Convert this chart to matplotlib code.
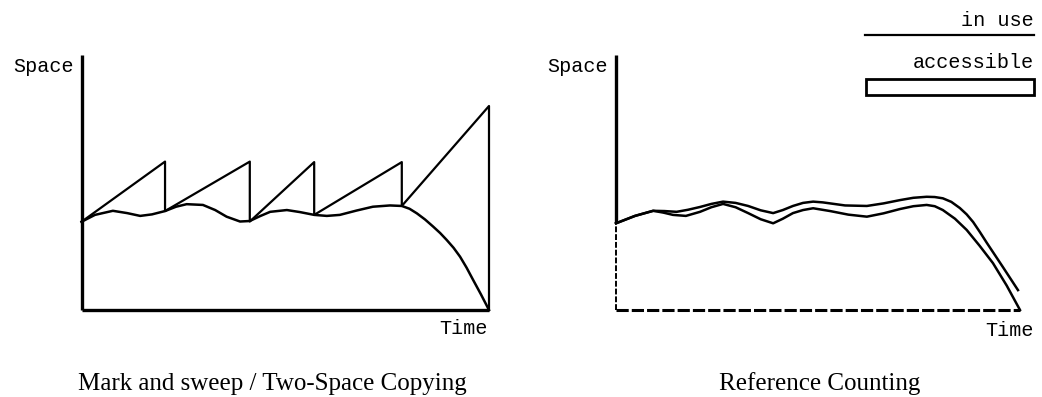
import matplotlib
matplotlib.use('Agg')
import matplotlib.pyplot as plt
from matplotlib.lines import Line2D
from matplotlib.patches import Rectangle

# --- mark and sweep / copying: heap size (sawtooth) and live data ---
heap_t = [0, 20.5, 20.5, 41.3, 41.3, 57.1, 57.1, 78.6, 78.6, 100, 100]
heap_s = [34.6, 58.2, 38.8, 58.2, 34.7, 58.0, 37.3, 58.0, 40.8, 80.0, 0]

live_t = [0, 3.3, 7.7, 11.2, 14.4, 17.3, 20.5, 23.2, 25.8, 29.8, 32.8, 35.6,
          38.9, 41.3, 43.8, 46.3, 50.4, 53.6, 57.1, 60.2, 63.4, 67.5, 71.5,
          75.7, 78.6, 80.5, 82.3, 84.3, 86.3, 88.0, 89.6, 91.3, 92.9, 94.5,
          96.1, 98.0, 100]
live_s = [34.6, 37.3, 38.9, 38.0, 36.9, 37.5, 38.8, 40.5, 41.5, 41.2, 39.2,
          36.6, 34.7, 34.9, 36.8, 38.5, 39.2, 38.4, 37.3, 36.9, 37.3, 39.0,
          40.5, 41.0, 40.8, 39.7, 37.9, 35.5, 32.7, 30.2, 27.5, 24.4, 20.9,
          16.6, 11.8, 6.2, 0]

# --- reference counting: in use vs. accessible ---
use_t = [0, 4.7, 9.2, 12.0, 15.0, 17.8, 20.8, 23.6, 26.5, 29.6, 32.7, 35.8,
         38.9, 41.3, 43.8, 46.3, 48.8, 51.2, 56.7, 62.1, 66.2, 70.3, 73.6,
         76.9, 78.9, 80.9, 83.0, 85.1, 86.8, 88.4, 90.1, 91.8, 95.7, 99.5]
use_s = [34.0, 36.9, 38.9, 38.8, 38.5, 39.3, 40.4, 41.6, 42.5, 42.0, 40.8,
         39.1, 38.0, 39.2, 40.8, 42.0, 42.5, 42.2, 41.0, 40.8, 41.8, 43.1,
         44.0, 44.4, 44.3, 43.8, 42.4, 40.0, 37.5, 34.5, 30.5, 26.3, 17.0, 7.8]

acc_t = [0, 4.7, 9.2, 11.7, 14.1, 17.3, 20.8, 23.6, 26.5, 29.6, 32.7, 35.8,
         38.9, 41.3, 43.8, 46.3, 48.8, 53.0, 57.5, 62.1, 66.2, 70.3, 73.6,
         76.9, 78.9, 80.9, 83.9, 86.8, 90.0, 93.3, 96.7, 100]
acc_s = [34.0, 36.9, 38.9, 38.2, 37.3, 36.9, 38.5, 40.3, 41.6, 40.3, 38.0,
         35.6, 34.0, 35.8, 38.0, 39.2, 39.9, 38.8, 37.4, 36.6, 37.9, 39.6,
         40.7, 41.2, 40.7, 39.2, 35.8, 31.4, 25.2, 18.4, 9.6, 0]

mono = 'Liberation Mono'
serif = 'Liberation Serif'

fig = plt.figure(figsize=(10.42, 3.97), dpi=100)
W, H = 1042, 397

ax1 = fig.add_axes([81.5 / W, 87 / H, 407.5 / W, 255 / H])
ax2 = fig.add_axes([616 / W, 87 / H, 404 / W, 255 / H])

for ax in (ax1, ax2):
    ax.set_xlim(0, 100)
    ax.set_ylim(0, 100)
    ax.set_xticks([])
    ax.set_yticks([])
    for sp in ax.spines.values():
        sp.set_visible(False)

# left panel
ax1.plot([0, 0], [0, 100], color='black', lw=2.4, clip_on=False, solid_capstyle='butt')
ax1.plot([0, 100], [0, 0], color='black', lw=2.4, clip_on=False, solid_capstyle='butt')
ax1.plot(heap_t, heap_s, color='black', lw=1.6, clip_on=False)
ax1.plot(live_t, live_s, color='black', lw=1.8, clip_on=False, solid_joinstyle='round')

# right panel
ax2.plot([0, 0], [acc_s[0], 100], color='black', lw=2.4, clip_on=False, solid_capstyle='butt')
ax2.plot([0, 0], [0, acc_s[0]], color='black', lw=1.4, ls=(0, (3, 1)), clip_on=False)
ax2.plot([0, 100], [0, 0], color='black', lw=2.2, ls=(0, (4, 1)), clip_on=False)
ax2.plot(use_t, use_s, color='black', lw=1.8, clip_on=False, solid_joinstyle='round')
ax2.plot(acc_t, acc_s, color='black', lw=1.8, clip_on=False, solid_joinstyle='round')

# axis labels
fig.text(74 / W, 1 - 66 / H, 'Space', family=mono, fontsize=14.5, ha='right', va='center')
fig.text(608 / W, 1 - 67 / H, 'Space', family=mono, fontsize=14.5, ha='right', va='center')
fig.text(488 / W, 1 - 328 / H, 'Time', family=mono, fontsize=14.5, ha='right', va='center')
fig.text(1034 / W, 1 - 330 / H, 'Time', family=mono, fontsize=14.5, ha='right', va='center')

# legend
fig.text(1034 / W, 1 - 20 / H, 'in use', family=mono, fontsize=14.5, ha='right', va='center')
fig.add_artist(Line2D([865 / W, 1034 / W], [1 - 35 / H, 1 - 35 / H],
                      transform=fig.transFigure, color='black', lw=1.6))
fig.text(1034 / W, 1 - 63 / H, 'accessible', family=mono, fontsize=14.5, ha='right', va='center')
fig.add_artist(Rectangle((866 / W, 1 - 95 / H), 168 / W, 16 / H,
                         transform=fig.transFigure, facecolor='white',
                         edgecolor='black', lw=2.0))

# captions
fig.text(272 / W, 1 - 384 / H, 'Mark and sweep / Two-Space Copying',
         family=serif, fontsize=18, ha='center', va='center')
fig.text(820 / W, 1 - 384 / H, 'Reference Counting',
         family=serif, fontsize=18, ha='center', va='center')

fig.savefig('out.png', dpi=100)
